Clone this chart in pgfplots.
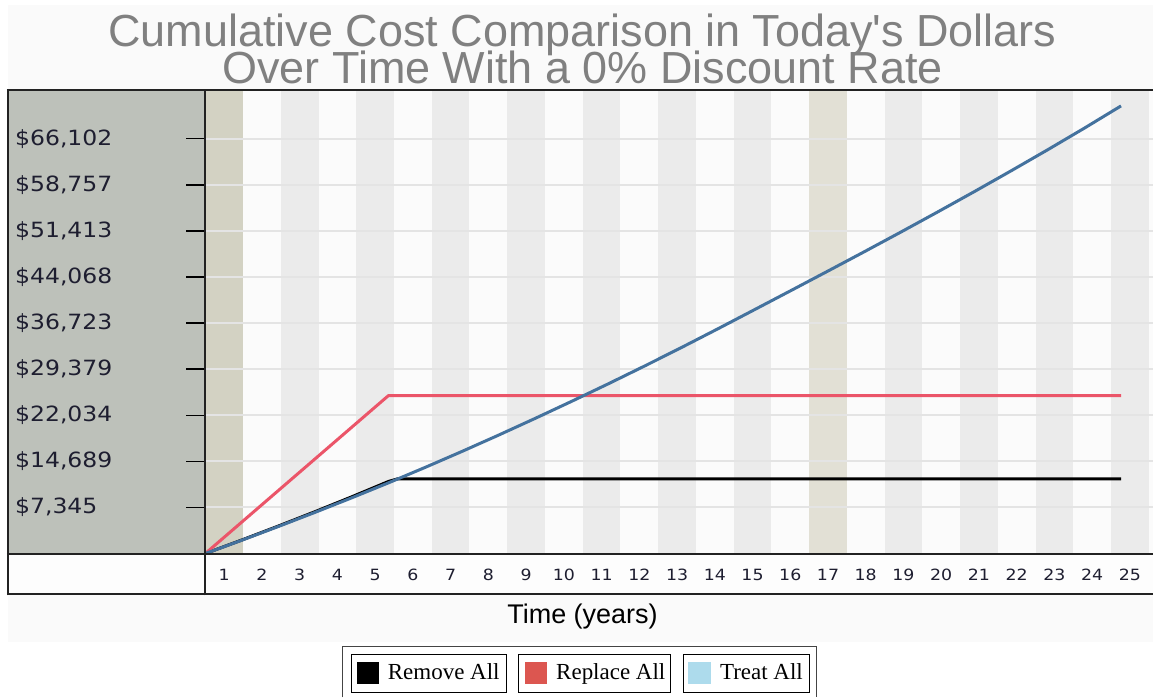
\documentclass[border=0pt]{standalone}
\usepackage{fontspec}
\setmainfont{Liberation Sans}
\newfontfamily\tickfont[FakeStretch=1.12]{DejaVu Sans}
\newfontfamily\legfont{Liberation Serif}
\usepackage{pgfplots}
\pgfplotsset{compat=1.18}
\definecolor{titlegray}{HTML}{808080}
\definecolor{panel}{HTML}{BDC1BA}
\definecolor{tanA}{HTML}{D3D2C3}
\definecolor{tanB}{HTML}{E2E0D5}
\definecolor{colgray}{HTML}{EBEBEB}
\definecolor{colwhite}{HTML}{FBFBFB}
\definecolor{gridc}{HTML}{E4E4E4}
\definecolor{bg}{HTML}{FAFAFA}
\definecolor{xband}{HTML}{FDFDFD}
\definecolor{redl}{HTML}{EB5569}
\definecolor{bluel}{HTML}{44729E}
\definecolor{legred}{HTML}{DC5650}
\definecolor{legblue}{HTML}{ADDBEC}
\definecolor{ticktext}{HTML}{1E1E30}
\definecolor{framec}{HTML}{222222}
\definecolor{legframe}{HTML}{444444}

\pgfplotstableread{
t cost
0 0
1 2160
2 4390
3 6680
4 9040
5 11480
5.25 11900
25 11900
}\removeall
\pgfplotstableread{
t cost
0 0
5 25170
25 25170
}\replaceall
\pgfplotstableread{
t cost
0 0
1 2130
2 4320
3 6570
4 8880
5 11260
6 13720
7 16250
8 18850
9 21520
10 24250
11 27040
12 29900
13 32830
14 35830
15 38880
16 41940
17 45020
18 48120
19 51260
20 54450
21 57690
22 60990
23 64350
24 67790
25 71330
}\treatall

\begin{document}
\begin{tikzpicture}[x=1pt,y=1pt]
\fill[white] (0,0) rectangle (1154,698);
\fill[bg] (8,55) rectangle (1154,693);
\node[text=titlegray, font=\fontsize{45}{45}\selectfont, anchor=base, inner sep=0pt] at (583,651) {Cumulative Cost Comparison in Today\textquotesingle s Dollars};
\node[text=titlegray, font=\fontsize{45}{45}\selectfont, anchor=base, inner sep=0pt] at (583,614) {Over Time With a 0\% Discount Rate};
\fill[panel] (8,144) rectangle (205.5,608);
\fill[xband] (8,103) rectangle (1154,144);
\begin{axis}[
  at={(205.5pt,144pt)}, anchor=south west,
  scale only axis, width=948.5pt, height=464pt,
  xmin=0, xmax=25.873, ymin=0, ymax=73880,
  scaled y ticks=false,
  axis line style={draw=none},
  ytick pos=left, tick align=outside,
  major tick length=19pt,
  ytick style={black, line width=1.5pt},
  xtick style={draw=none},
  ytick={7344.67,14689.33,22034,29378.67,36723.33,44068,51412.67,58757.33,66102},
  yticklabels={{\$7,345},{\$14,689},{\$22,034},{\$29,379},{\$36,723},{\$44,068},{\$51,413},{\$58,757},{\$66,102}},
  yticklabel style={anchor=west, inner sep=0pt, xshift=-171.5pt, font=\tickfont\fontsize{21}{21}\selectfont, text=ticktext},
  xtick={0.515,1.545,2.576,3.606,4.636,5.667,6.697,7.727,8.758,9.788,10.818,11.848,12.879,13.909,14.939,15.970,17.000,18.030,19.061,20.091,21.121,22.152,23.182,24.212,25.242},
  xticklabels={1,2,3,4,5,6,7,8,9,10,11,12,13,14,15,16,17,18,19,20,21,22,23,24,25},
  xticklabel style={anchor=center, inner sep=0pt, yshift=-2pt, font=\tickfont\fontsize{15.5}{15.5}\selectfont, text=ticktext},
]
\fill[colwhite] (axis cs:0,0) rectangle (axis cs:25.873,73880);
\fill[tanA] (axis cs:0,0) rectangle (axis cs:1.0303,73880);
\fill[colgray] (axis cs:2.0606,0) rectangle (axis cs:3.0909,73880);
\fill[colgray] (axis cs:4.1212,0) rectangle (axis cs:5.1515,73880);
\fill[colgray] (axis cs:6.1818,0) rectangle (axis cs:7.2121,73880);
\fill[colgray] (axis cs:8.2424,0) rectangle (axis cs:9.2727,73880);
\fill[colgray] (axis cs:10.303,0) rectangle (axis cs:11.3333,73880);
\fill[colgray] (axis cs:12.3636,0) rectangle (axis cs:13.3939,73880);
\fill[colgray] (axis cs:14.4242,0) rectangle (axis cs:15.4545,73880);
\fill[tanB] (axis cs:16.4848,0) rectangle (axis cs:17.5151,73880);
\fill[colgray] (axis cs:18.5454,0) rectangle (axis cs:19.5757,73880);
\fill[colgray] (axis cs:20.606,0) rectangle (axis cs:21.6363,73880);
\fill[colgray] (axis cs:22.6666,0) rectangle (axis cs:23.6969,73880);
\fill[colgray] (axis cs:24.7272,0) rectangle (axis cs:25.7575,73880);
\pgfplotsinvokeforeach{7344.67,14689.33,22034,29378.67,36723.33,44068,51412.67,58757.33,66102}{
  \draw[gridc, line width=2pt] (axis cs:0,#1) -- (axis cs:25.873,#1);
}
\addplot[black, line width=3pt, line join=round] table[x=t, y=cost] {\removeall};
\addplot[redl, line width=3pt, line join=round] table[x=t, y=cost] {\replaceall};
\addplot[bluel, line width=3pt, line join=round] table[x=t, y=cost] {\treatall};
\end{axis}
\draw[framec, line width=2pt] (7,608) -- (1154,608);
\draw[framec, line width=2pt] (7,144) -- (1154,144);
\draw[framec, line width=2pt] (7,103) -- (1154,103);
\draw[framec, line width=2pt] (8,102) -- (8,609);
\draw[framec, line width=2pt] (205.5,102) -- (205.5,609);
\node[font=\fontsize{27}{27}\selectfont, anchor=base, inner sep=0pt] at (583,74) {Time (years)};
% legend
\draw[legframe, line width=1.5pt] (343,0) -- (343,51) -- (817,51) -- (817,0);
\draw[black, line width=1.5pt] (352,5) rectangle (507,43);
\fill[black] (357,13) rectangle (379,35);
\node[font=\legfont\fontsize{23}{23}\selectfont, anchor=base west, inner sep=0pt] at (388,18) {Remove All};
\draw[black, line width=1.5pt] (519,5) rectangle (671,43);
\fill[legred] (525,13) rectangle (547,35);
\node[font=\legfont\fontsize{23}{23}\selectfont, anchor=base west, inner sep=0pt] at (556.5,18) {Replace All};
\draw[black, line width=1.5pt] (684,5) rectangle (810,43);
\fill[legblue] (689,13) rectangle (711.5,35);
\node[font=\legfont\fontsize{23}{23}\selectfont, anchor=base west, inner sep=0pt] at (720.5,18) {Treat All};
\end{tikzpicture}
\end{document}
